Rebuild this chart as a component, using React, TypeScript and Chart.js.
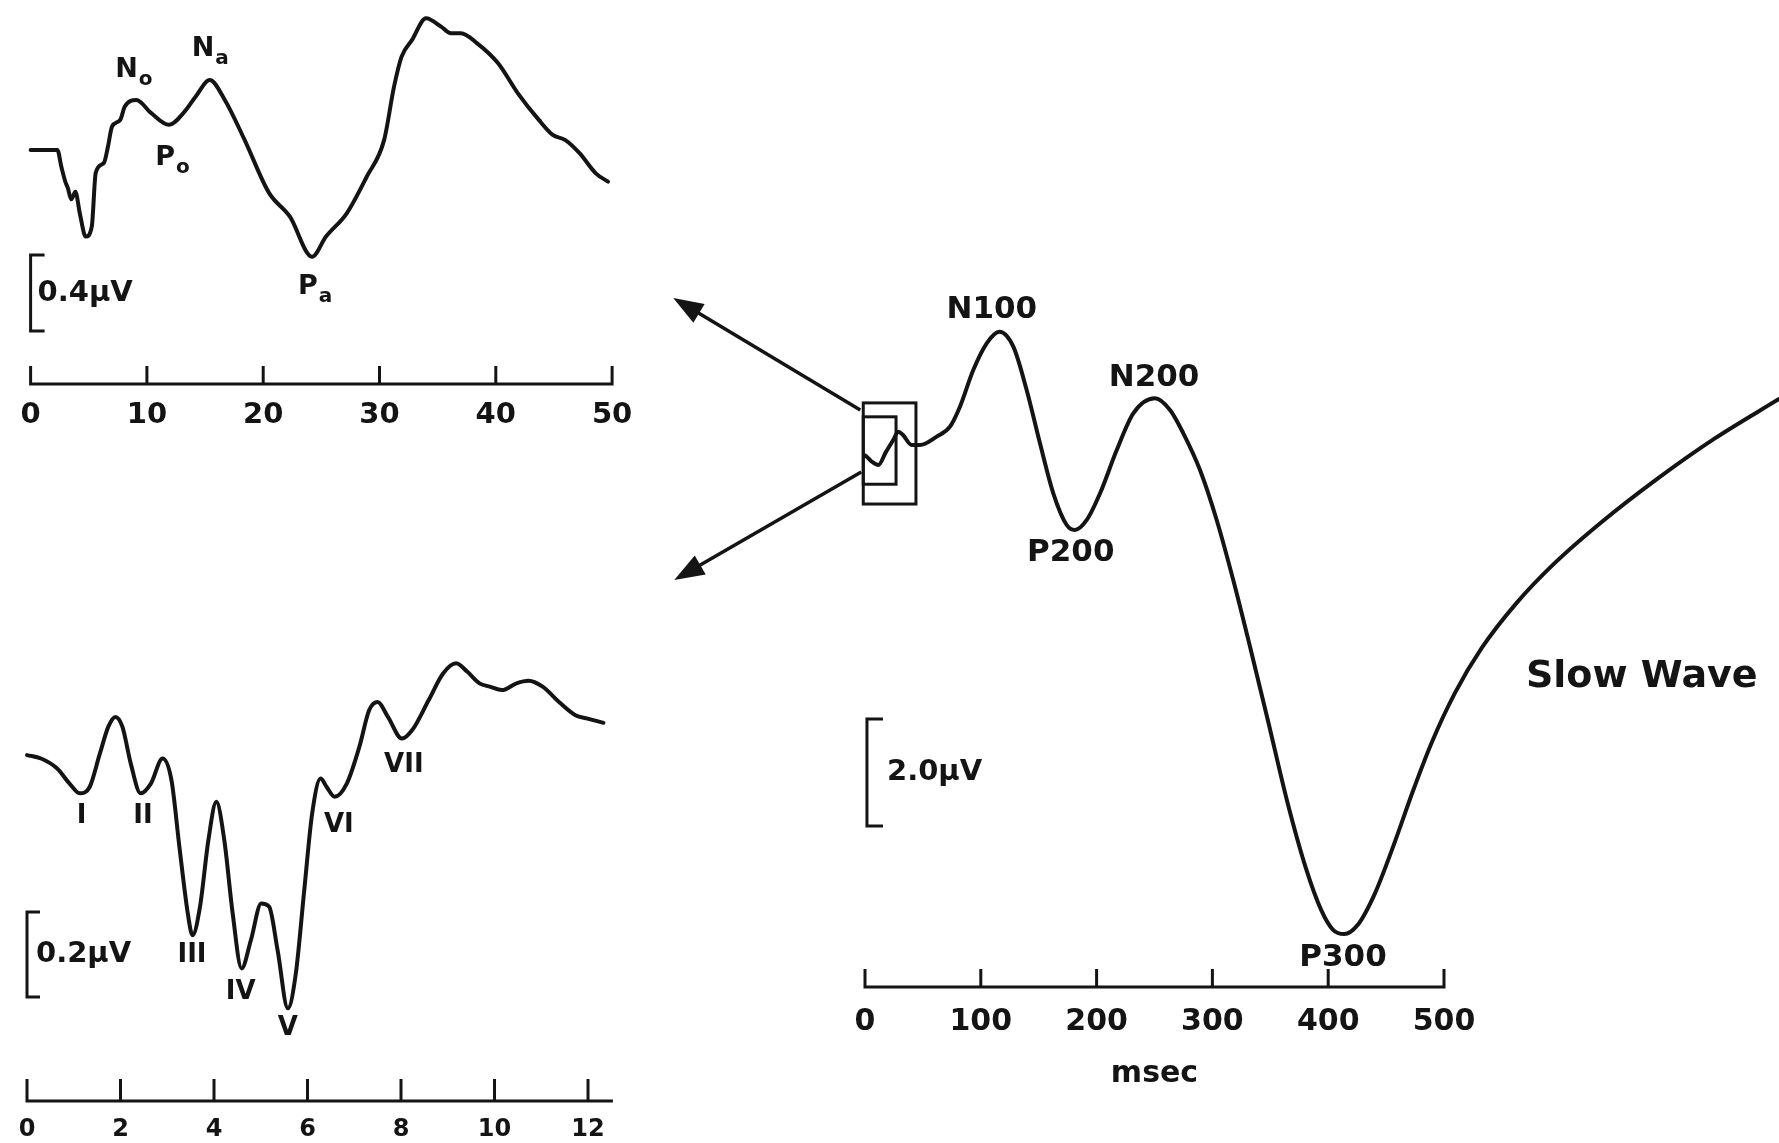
import React, { useEffect, useRef } from "react";
import { Chart, registerables } from "chart.js";

Chart.register(...registerables);

const PAGE_W = 1779;
const PAGE_H = 1143;
const INK = "#141414";
const FONT = '"DejaVu Sans", "Liberation Sans", Arial, sans-serif';

// ---------- Middle latency response (top left), ms / µV (negative up) ----------
const mlrTimes = [0, 2.3, 2.65, 3.0, 3.2, 3.5, 3.85, 4.25, 4.74, 5.26, 5.6, 6.3, 6.65, 7.0, 7.7, 8.1, 9.1, 10.35, 11.9, 13.15, 14.2, 15.4, 16.7, 18.4, 20.5, 22.3, 24.2, 25.4, 27.2, 28.9, 30.4, 31.25, 31.9, 32.8, 34.0, 35.3, 36.15, 37.0, 38.4, 40.2, 41.9, 43.7, 44.9, 45.95, 47.2, 48.6, 49.65];
const mlrValues = [0, 0, 0.09, 0.17, 0.2, 0.26, 0.22, 0.34, 0.456, 0.404, 0.12, 0.068, -0.017, -0.123, -0.158, -0.228, -0.263, -0.195, -0.132, -0.195, -0.281, -0.368, -0.263, -0.053, 0.226, 0.351, 0.562, 0.456, 0.332, 0.141, -0.053, -0.333, -0.491, -0.579, -0.693, -0.649, -0.614, -0.614, -0.561, -0.456, -0.298, -0.158, -0.079, -0.053, 0.017, 0.123, 0.167];
const mlrTicks = [0, 10, 20, 30, 40, 50];
const mlrPeakNames = ["N", "P", "N", "P"];
const mlrPeakSubs = ["o", "o", "a", "a"];
const mlrPeakTimes = [8.25, 11.56, 14.82, 23.85];
const mlrPeakValues = [-0.421, 0.042, -0.532, 0.721];

// ---------- Auditory brainstem response (bottom left) ----------
const abrTimes = [0, 0.3, 0.64, 0.91, 1.13, 1.34, 1.56, 1.74, 1.89, 2.04, 2.22, 2.43, 2.65, 2.9, 3.09, 3.26, 3.44, 3.54, 3.7, 3.88, 4.05, 4.22, 4.4, 4.59, 4.79, 5.01, 5.18, 5.36, 5.58, 5.75, 5.93, 6.1, 6.28, 6.41, 6.58, 6.84, 7.11, 7.32, 7.5, 7.72, 8.02, 8.24, 8.59, 8.9, 9.18, 9.42, 9.68, 9.9, 10.16, 10.47, 10.73, 11.03, 11.38, 11.73, 11.99, 12.33];
const abrValues = [0, 0.008, 0.031, 0.067, 0.09, 0.075, -0.004, -0.067, -0.09, -0.067, 0.02, 0.09, 0.067, 0.008, 0.059, 0.216, 0.373, 0.424, 0.357, 0.2, 0.11, 0.2, 0.373, 0.502, 0.435, 0.349, 0.357, 0.459, 0.596, 0.514, 0.318, 0.137, 0.055, 0.075, 0.098, 0.067, -0.02, -0.106, -0.125, -0.09, -0.039, -0.059, -0.129, -0.192, -0.216, -0.196, -0.169, -0.161, -0.153, -0.169, -0.175, -0.161, -0.125, -0.094, -0.086, -0.076];
const abrTicks = [0, 2, 4, 6, 8, 10, 12];
const abrPeakNames = ["I", "II", "III", "IV", "V", "VI", "VII"];
const abrPeakTimes = [1.17, 2.48, 3.53, 4.57, 5.58, 6.67, 8.06];
const abrPeakValues = [0.145, 0.145, 0.471, 0.557, 0.642, 0.165, 0.024];

// ---------- Long latency ERP (right) ----------
const erpTimes = [0, 1.5, 6, 11.5, 18, 24.4, 28.8, 32.8, 40.3, 47.5, 61.9, 73.4, 82, 93.5, 105.1, 116, 128.1, 139.6, 151.1, 162.6, 174.2, 181.3, 191.5, 203, 217.4, 231.7, 250.4, 263.4, 274.9, 289.3, 303.7, 318.0, 332.5, 347.9, 364.4, 380.8, 394, 404, 413.8, 425.4, 440.2, 456.7, 473.2, 489.6, 509.5, 532.6, 562.2, 595.3, 634.9, 684.4, 733.9, 789.3];
const erpValues = [0.1, 0.125, 0.22, 0.28, 0.04, -0.187, -0.342, -0.28, -0.093, -0.093, -0.249, -0.436, -0.809, -1.495, -1.994, -2.211, -1.931, -1.121, -0.125, 0.809, 1.402, 1.495, 1.308, 0.809, 0, -0.686, -0.966, -0.748, -0.312, 0.374, 1.308, 2.43, 3.677, 5.05, 6.55, 7.82, 8.6, 8.963, 9.047, 8.879, 8.295, 7.376, 6.374, 5.458, 4.54, 3.7, 2.871, 2.12, 1.368, 0.535, -0.217, -0.953];
const erpTicks = [0, 100, 200, 300, 400, 500];
const erpPeakNames = ["N100", "P200", "N200", "P300"];
const erpPeakTimes = [109.5, 177.7, 249.6, 412.8];
const erpPeakValues = [-2.62, 1.916, -1.355, 9.49];

type Label = { text: string; sub?: string; t: number; v: number; align?: CanvasTextAlign };

type Spec = {
  times: number[];
  values: number[];
  area: { left: number; top: number; right: number; bottom: number };
  xMin: number;
  xMax: number;
  yMin: number;
  yMax: number;
  ticks: number[];
  axisEnd: number;
  tickFont: number;
  tickLen: number;
  tickGap: number;
  bar: { t: number; top: number; size: number; text: string; serif: number; gap: number };
  labels: Label[];
  labelFont: number;
  subFont: number;
  extra?: (chart: any) => void;
};

function drawArrow(ctx: CanvasRenderingContext2D, x0: number, y0: number, x1: number, y1: number) {
  const ang = Math.atan2(y1 - y0, x1 - x0);
  const L = 30;
  const Wd = 11;
  const cx = Math.cos(ang);
  const sy = Math.sin(ang);
  ctx.beginPath();
  ctx.moveTo(x0, y0);
  ctx.lineTo(x1 - cx * (L - 4), y1 - sy * (L - 4));
  ctx.stroke();
  ctx.beginPath();
  ctx.moveTo(x1, y1);
  ctx.lineTo(x1 - cx * L - sy * Wd, y1 - sy * L + cx * Wd);
  ctx.lineTo(x1 - cx * L + sy * Wd, y1 - sy * L - cx * Wd);
  ctx.closePath();
  ctx.fill();
}

function drawErpExtras(chart: any) {
  const { ctx, chartArea } = chart;
  const xs = chart.scales.x;
  const ys = chart.scales.y;
  ctx.save();
  ctx.strokeStyle = INK;
  ctx.fillStyle = INK;
  ctx.lineWidth = 3;
  // inset boxes around the first ~40 ms
  const oL = xs.getPixelForValue(-1.5);
  const oR = xs.getPixelForValue(44);
  const oT = ys.getPixelForValue(-0.88);
  const oB = ys.getPixelForValue(1.01);
  const iR = xs.getPixelForValue(26.8);
  const iT = ys.getPixelForValue(-0.62);
  const iB = ys.getPixelForValue(0.64);
  ctx.strokeRect(oL, oT, oR - oL, oB - oT);
  ctx.strokeRect(oL, iT, iR - oL, iB - iT);
  // arrows to the two expanded panels
  ctx.lineWidth = 3.5;
  const s1x = oL - 3, s1y = oT + 7;
  drawArrow(ctx, s1x, s1y, s1x - 187, s1y - 112);
  const s2x = oL - 2, s2y = oT + 69;
  drawArrow(ctx, s2x, s2y, s2x - 187, s2y + 108);
  // "Slow Wave" and "msec"
  ctx.font = `bold 38px ${FONT}`;
  ctx.textAlign = "left";
  ctx.textBaseline = "middle";
  ctx.fillText("Slow Wave", xs.getPixelForValue(570.8), ys.getPixelForValue(4.243));
  ctx.font = `bold 30px ${FONT}`;
  ctx.textAlign = "center";
  ctx.fillText("msec", xs.getPixelForValue(250), chartArea.bottom + 87);
  ctx.restore();
}

function drawDecor(chart: any, spec: Spec) {
  const { ctx, chartArea } = chart;
  const xs = chart.scales.x;
  const ys = chart.scales.y;
  ctx.save();
  ctx.strokeStyle = INK;
  ctx.fillStyle = INK;
  ctx.lineWidth = 3;
  ctx.lineCap = "butt";
  // time axis with upward ticks
  const ay = chartArea.bottom;
  ctx.beginPath();
  ctx.moveTo(xs.getPixelForValue(spec.ticks[0]) - 1.5, ay);
  ctx.lineTo(xs.getPixelForValue(spec.axisEnd) + 1.5, ay);
  for (const tk of spec.ticks) {
    const px = xs.getPixelForValue(tk);
    ctx.moveTo(px, ay);
    ctx.lineTo(px, ay - spec.tickLen);
  }
  ctx.stroke();
  ctx.font = `bold ${spec.tickFont}px ${FONT}`;
  ctx.textAlign = "center";
  ctx.textBaseline = "middle";
  for (const tk of spec.ticks) {
    ctx.fillText(String(tk), xs.getPixelForValue(tk), ay + spec.tickGap);
  }
  // amplitude calibration bracket
  const b = spec.bar;
  const bx = xs.getPixelForValue(b.t);
  const by1 = ys.getPixelForValue(b.top);
  const by2 = ys.getPixelForValue(b.top + b.size);
  ctx.beginPath();
  ctx.moveTo(bx + b.serif, by1);
  ctx.lineTo(bx, by1);
  ctx.lineTo(bx, by2);
  ctx.lineTo(bx + b.serif, by2);
  ctx.stroke();
  ctx.font = `bold 29px ${FONT}`;
  ctx.textAlign = "left";
  ctx.fillText(b.text, bx + b.gap, (by1 + by2) / 2);
  // component labels
  for (const lb of spec.labels) {
    const px = xs.getPixelForValue(lb.t);
    const py = ys.getPixelForValue(lb.v);
    ctx.font = `bold ${spec.labelFont}px ${FONT}`;
    ctx.textAlign = lb.align || "center";
    ctx.fillText(lb.text, px, py);
    if (lb.sub) {
      const w = ctx.measureText(lb.text).width;
      ctx.font = `bold ${spec.subFont}px ${FONT}`;
      ctx.textAlign = "left";
      ctx.fillText(lb.sub, px + w / 2 + 1, py + 10);
    }
  }
  ctx.restore();
  if (spec.extra) spec.extra(chart);
}

const mlrSpec: Spec = {
  times: mlrTimes,
  values: mlrValues,
  area: { left: 30.6, top: 0, right: 612.1, bottom: 384 },
  xMin: 0,
  xMax: 50,
  yMin: -0.789,
  yMax: 1.2316,
  ticks: mlrTicks,
  axisEnd: 50,
  tickFont: 29,
  tickLen: 18,
  tickGap: 31,
  bar: { t: 0, top: 0.553, size: 0.4, text: "0.4µV", serif: 14, gap: 7 },
  labels: mlrPeakNames.map((n, i) => ({ text: n, sub: mlrPeakSubs[i], t: mlrPeakTimes[i], v: mlrPeakValues[i] })),
  labelFont: 27,
  subFont: 20,
};

const abrSpec: Spec = {
  times: abrTimes,
  values: abrValues,
  area: { left: 27, top: 620, right: 612, bottom: 1101 },
  xMin: 0,
  xMax: 12.513,
  yMin: -0.318,
  yMax: 0.814,
  ticks: abrTicks,
  axisEnd: 12.5,
  tickFont: 24,
  tickLen: 22,
  tickGap: 29,
  bar: { t: 0, top: 0.369, size: 0.2, text: "0.2µV", serif: 13, gap: 9 },
  labels: abrPeakNames.map((n, i) => ({ text: n, t: abrPeakTimes[i], v: abrPeakValues[i] })),
  labelFont: 26,
  subFont: 20,
};

const erpSpec: Spec = {
  times: erpTimes,
  values: erpValues,
  area: { left: 865, top: 250, right: 1779, bottom: 987 },
  xMin: 0,
  xMax: 789.3,
  yMin: -3.738,
  yMax: 10.037,
  ticks: erpTicks,
  axisEnd: 500,
  tickFont: 30,
  tickLen: 18,
  tickGap: 35,
  bar: { t: 1.7, top: 5.03, size: 2.0, text: "2.0µV", serif: 16, gap: 20 },
  labels: erpPeakNames.map((n, i) => ({ text: n, t: erpPeakTimes[i], v: erpPeakValues[i] })),
  labelFont: 31,
  subFont: 20,
  extra: drawErpExtras,
};

function WavePanel({ spec }: { spec: Spec }) {
  const ref = useRef<HTMLCanvasElement>(null);
  useEffect(() => {
    const canvas = ref.current;
    if (!canvas) return;
    const decor = {
      id: "decor",
      afterDatasetsDraw(chart: any) {
        drawDecor(chart, spec);
      },
    };
    const chart = new Chart(canvas, {
      type: "line",
      data: {
        datasets: [
          {
            data: spec.times.map((t, i) => ({ x: t, y: spec.values[i] })),
            borderColor: INK,
            borderWidth: 4,
            pointRadius: 0,
            fill: false,
            cubicInterpolationMode: "monotone",
            borderJoinStyle: "round",
            borderCapStyle: "round",
            clip: false,
          } as any,
        ],
      },
      options: {
        responsive: false,
        animation: false,
        devicePixelRatio: 1,
        events: [],
        layout: {
          padding: {
            left: spec.area.left,
            top: spec.area.top,
            right: PAGE_W - spec.area.right,
            bottom: PAGE_H - spec.area.bottom,
          },
        },
        plugins: { legend: { display: false }, tooltip: { enabled: false }, title: { display: false } },
        scales: {
          x: { type: "linear", display: false, min: spec.xMin, max: spec.xMax },
          y: { type: "linear", display: false, min: spec.yMin, max: spec.yMax, reverse: true },
        },
      },
      plugins: [decor],
    });
    return () => chart.destroy();
  }, [spec]);
  return (
    <canvas
      ref={ref}
      width={PAGE_W}
      height={PAGE_H}
      style={{ position: "absolute", left: 0, top: 0, width: PAGE_W, height: PAGE_H }}
    />
  );
}

export default function App() {
  return (
    <div
      style={{
        position: "absolute",
        left: 0,
        top: 0,
        width: PAGE_W,
        height: PAGE_H,
        background: "#ffffff",
        overflow: "hidden",
      }}
    >
      <WavePanel spec={erpSpec} />
      <WavePanel spec={mlrSpec} />
      <WavePanel spec={abrSpec} />
    </div>
  );
}
